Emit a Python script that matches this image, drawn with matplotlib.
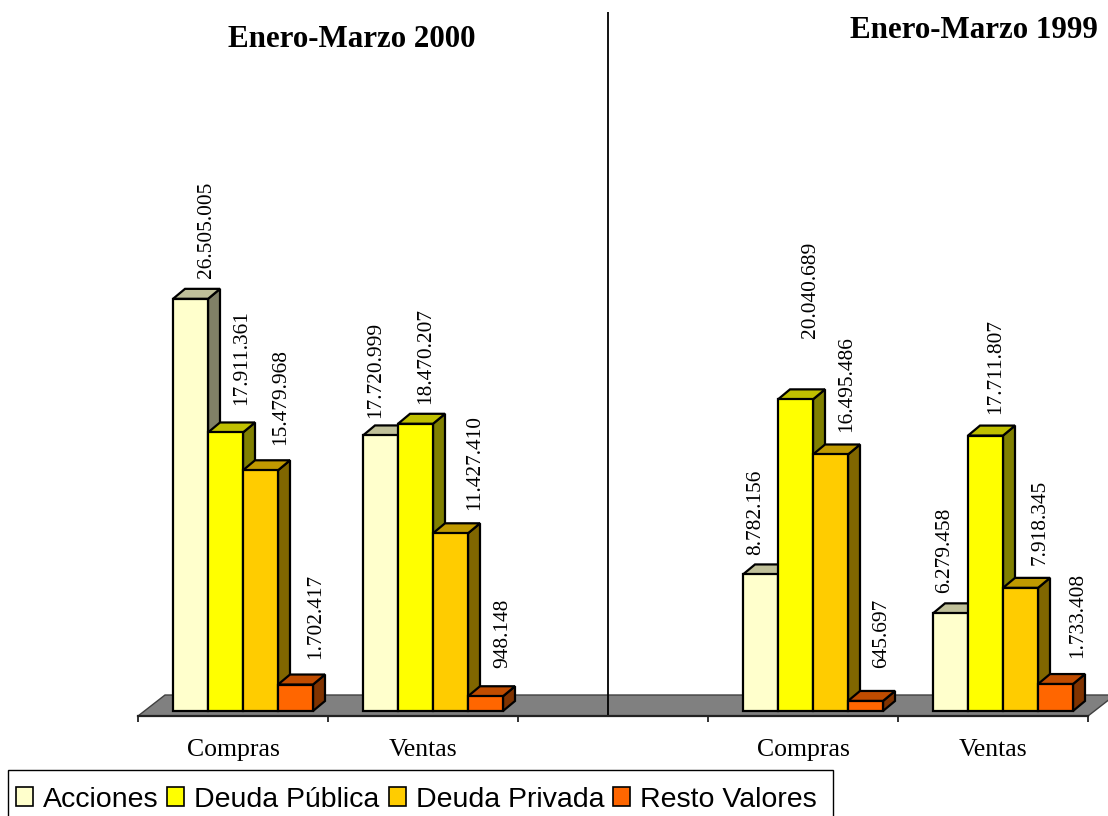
import matplotlib
matplotlib.use("Agg")
import matplotlib.pyplot as plt
from matplotlib.patches import Polygon, Patch, Rectangle
from matplotlib.font_manager import FontProperties

# ---------------- data ----------------
periods = ["Enero-Marzo 2000", "Enero-Marzo 1999"]
operations = ["Compras", "Ventas"]
series = ["Acciones", "Deuda Pública", "Deuda Privada", "Resto Valores"]

acciones_2000 = [26505005, 17720999]
deuda_publica_2000 = [17911361, 18470207]
deuda_privada_2000 = [15479968, 11427410]
resto_valores_2000 = [1702417, 948148]

acciones_1999 = [8782156, 6279458]
deuda_publica_1999 = [20040689, 17711807]
deuda_privada_1999 = [16495486, 7918345]
resto_valores_1999 = [645697, 1733408]

values = {
    periods[0]: [acciones_2000, deuda_publica_2000, deuda_privada_2000, resto_valores_2000],
    periods[1]: [acciones_1999, deuda_publica_1999, deuda_privada_1999, resto_valores_1999],
}

# ---------------- styles / layout ----------------
face = ["#FFFFCC", "#FFFF00", "#FFCC00", "#FF6600"]
side = ["#808066", "#808000", "#806600", "#803300"]
top = ["#C0C099", "#C0C000", "#C09900", "#C04C00"]

period_slots = {periods[0]: [0, 1], periods[1]: [3, 4]}
n_slots = 5

# label offsets in pixels (x from bar centre, y above bar top), per period/op/series
label_dx = {periods[0]: [[15.5, 16.5, 20, 20], [-4.5, 10.5, 24.5, 17.5]],
            periods[1]: [[-5, 15, 16.5, 16], [-6, 10.5, 20, 22]]}
label_dy = {periods[0]: [[21, 27, 25, 26], [17, 20, 23, 28]],
            periods[1]: [[19, 61, 22, 33], [20, 22, 23, 26]]}

W, H = 1108, 816
AX_L, AX_R, AX_T, AX_B = 138, 1088, 12, 716
PX_PER_UNIT = 15.55 / 1e6          # vertical pixels per value unit
ZERO_UP = 5                         # zero line sits 5 px above front floor edge

serif = "Liberation Serif"
sans = "Liberation Sans"

fig = plt.figure(figsize=(W / 100, H / 100), dpi=100)
ax = fig.add_axes([AX_L / W, 1 - AX_B / H, (AX_R - AX_L) / W, (AX_B - AX_T) / H])
ax.set_xlim(0, n_slots)
ax.set_ylim(-ZERO_UP / PX_PER_UNIT, (AX_B - AX_T - ZERO_UP) / PX_PER_UNIT)

xpp = n_slots / (AX_R - AX_L)      # x data per pixel
ypp = 1 / PX_PER_UNIT              # y data per pixel
ybot = ax.get_ylim()[0]

# floor
fdx, fdy = 27 * xpp, 21 * ypp
floor = Polygon([(0, ybot), (n_slots, ybot), (n_slots + fdx, ybot + fdy), (fdx, ybot + fdy)],
                closed=True, facecolor="#808080", edgecolor="#404040", lw=1.0,
                zorder=1, clip_on=False)
ax.add_patch(floor)

# bars
bw = 35 * xpp
bdx, bdy = 12 * xpp, 10 * ypp
z = 2
for p in periods:
    for oi, slot in enumerate(period_slots[p]):
        for si in range(len(series)):
            v = values[p][si][oi]
            x0 = slot + bw * (si + 1)
            sd = Polygon([(x0 + bw, 0), (x0 + bw, v), (x0 + bw + bdx, v + bdy), (x0 + bw + bdx, bdy)],
                         closed=True, facecolor=side[si], edgecolor="black", lw=1.6, zorder=z)
            tp = Polygon([(x0, v), (x0 + bw, v), (x0 + bw + bdx, v + bdy), (x0 + bdx, v + bdy)],
                         closed=True, facecolor=top[si], edgecolor="black", lw=1.6, zorder=z)
            ax.add_patch(sd)
            ax.add_patch(tp)
            ax.bar(x0, v, width=bw, align="edge", color=face[si], edgecolor="black",
                   lw=1.6, zorder=z + 0.5)
            z += 1
            txt = f"{v:,}".replace(",", ".")
            ax.text(x0 + bw / 2 + label_dx[p][oi][si] * xpp, v + label_dy[p][oi][si] * ypp, txt,
                    rotation=90, ha="center", va="bottom", fontsize=15.4, family=serif,
                    color="black", zorder=200)

# divider
ax.axvline((608 - AX_L) * xpp, color="black", lw=1.3, zorder=150)

# axes cosmetics
for s in ["left", "right", "top"]:
    ax.spines[s].set_visible(False)
ax.spines["bottom"].set_color("#222222")
ax.spines["bottom"].set_linewidth(1.6)
ax.spines["bottom"].set_zorder(160)
ax.set_yticks([])
ax.set_xticks(range(n_slots + 1))
ax.set_xticklabels([])
ax.tick_params(axis="x", which="major", direction="out", length=4.5, width=1.3, color="#222222")
centers, labels = [], []
for p in periods:
    for oi, slot in enumerate(period_slots[p]):
        centers.append(slot + 0.5)
        labels.append(operations[oi])
ax.set_xticks(centers, minor=True)
ax.set_xticklabels(labels, minor=True, fontsize=18.5, family=serif)
ax.tick_params(axis="x", which="minor", length=0, pad=16.5)
ax.patch.set_visible(False)

# titles
fig.text(352 / W, 1 - 47 / H, periods[0], ha="center", va="baseline", fontsize=22.3,
         weight="bold", family=serif)
fig.text(974 / W, 1 - 38 / H, periods[1], ha="center", va="baseline", fontsize=22.3,
         weight="bold", family=serif)

# legend (entries without frame) + frame box drawn separately
handles = [Patch(facecolor=face[i], edgecolor="black", lw=1.2) for i in range(len(series))]
leg = fig.legend(handles, series, loc="upper left", bbox_to_anchor=(7 / W, 1 - 778 / H),
                 ncol=4, prop=FontProperties(family=sans, size=20.5), frameon=False,
                 borderpad=0.3, handlelength=0.6, handleheight=0.65, handletextpad=0.35,
                 columnspacing=0.32, borderaxespad=0)
frame = Rectangle((8 / W, -10 / H), (833 - 8) / W, (816 - 770 + 10) / H,
                  transform=fig.transFigure, facecolor="none", edgecolor="black",
                  lw=1.0, clip_on=False)
fig.add_artist(frame)

fig.savefig("out.png", dpi=100)
